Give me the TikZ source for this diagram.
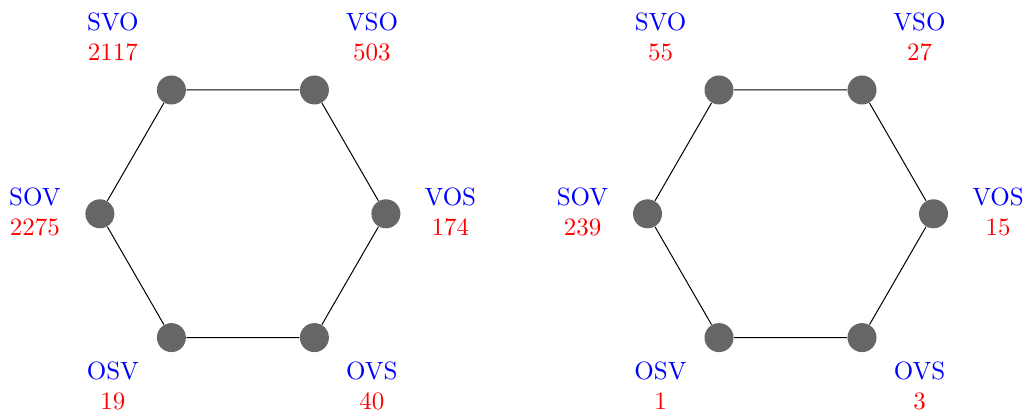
\documentclass[tikz,border=0pt]{standalone}
\begin{document}
\begin{tikzpicture}[x=0.4pt,y=-0.4pt,
  vert/.style={circle,fill=black!60,minimum size=11.6pt,inner sep=0pt},
  edge/.style={draw=black,line width=0.4pt},
  lab/.style={anchor=base,align=center,inner sep=0pt}]
\useasboundingbox (0,0) rectangle (1025,412);
\foreach \p/\cx/\a/\b/\c/\d/\e/\f in {L/242.9/2117/503/174/40/19/2275, R/790.5/55/27/15/3/1/239}{
  \node[vert] (\p1) at (\cx-71.5,90) {};
  \node[vert] (\p2) at (\cx+71.5,90) {};
  \node[vert] (\p3) at (\cx+143,213.8) {};
  \node[vert] (\p4) at (\cx+71.5,337.6) {};
  \node[vert] (\p5) at (\cx-71.5,337.6) {};
  \node[vert] (\p6) at (\cx-143,213.8) {};
  \draw[edge] (\p1) -- (\p2) -- (\p3) -- (\p4) -- (\p5) -- (\p6) -- (\p1);
  \node[lab] (\p l1) at (\cx-130,61) {\textcolor{blue}{SVO}\\\textcolor{red}{\a}};
  \node[lab] (\p l2) at (\cx+129,61) {\textcolor{blue}{VSO}\\\textcolor{red}{\b}};
  \node[lab] (\p l3) at (\cx+207.5,235) {\textcolor{blue}{VOS}\\\textcolor{red}{\c}};
  \node[lab] (\p l4) at (\cx+129,409) {\textcolor{blue}{OVS}\\\textcolor{red}{\d}};
  \node[lab] (\p l5) at (\cx-130,409) {\textcolor{blue}{OSV}\\\textcolor{red}{\e}};
  \node[lab] (\p l6) at (\cx-208,235) {\textcolor{blue}{SOV}\\\textcolor{red}{\f}};
}
\end{tikzpicture}
\end{document}
